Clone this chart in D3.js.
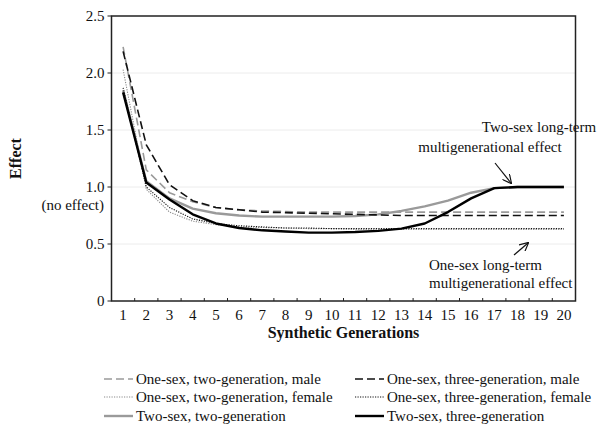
<!DOCTYPE html>
<html><head><meta charset="utf-8">
<script src="https://cdn.jsdelivr.net/npm/d3@7"></script>
</head><body style="margin:0"><svg id="c" width="606" height="433" style="display:block"></svg>
<script>
const generations = d3.range(1, 21);
const yTicks = [0, 0.5, 1.0, 1.5, 2.0, 2.5];
const oneSexTwoGenMale   = [2.23,1.15,0.95,0.87,0.82,0.80,0.79,0.785,0.78,0.78,0.78,0.78,0.78,0.78,0.78,0.78,0.78,0.78,0.78,0.78];
const oneSexThreeGenMale = [2.19,1.37,1.02,0.88,0.82,0.80,0.78,0.775,0.77,0.765,0.76,0.755,0.75,0.75,0.75,0.75,0.75,0.75,0.75,0.75];
const oneSexTwoGenFemale = [2.03,0.98,0.78,0.70,0.67,0.65,0.645,0.64,0.635,0.635,0.63,0.63,0.63,0.63,0.63,0.63,0.63,0.63,0.63,0.63];
const oneSexThreeGenFemale=[1.87,1.00,0.82,0.72,0.68,0.66,0.65,0.64,0.64,0.635,0.635,0.635,0.635,0.635,0.635,0.635,0.635,0.635,0.635,0.635];
const twoSexTwoGen       = [1.85,1.05,0.90,0.81,0.77,0.75,0.74,0.74,0.74,0.74,0.745,0.76,0.79,0.83,0.88,0.95,0.99,1.0,1.0,1.0];
const twoSexThreeGen     = [1.83,1.04,0.89,0.76,0.68,0.64,0.62,0.61,0.60,0.60,0.605,0.615,0.635,0.68,0.78,0.90,0.99,1.0,1.0,1.0];

const series = [
  {name:"One-sex, two-generation, male", v:oneSexTwoGenMale, color:"#9a9a9a", w:1.6, dash:"8,4"},
  {name:"One-sex, three-generation, male", v:oneSexThreeGenMale, color:"#111", w:1.6, dash:"8,4"},
  {name:"One-sex, two-generation, female", v:oneSexTwoGenFemale, color:"#8a8a8a", w:1.1, dash:"1.2,1.3"},
  {name:"One-sex, three-generation, female", v:oneSexThreeGenFemale, color:"#111", w:1.1, dash:"1.2,1.3"},
  {name:"Two-sex, two-generation", v:twoSexTwoGen, color:"#9a9a9a", w:2.4, dash:null},
  {name:"Two-sex, three-generation", v:twoSexThreeGen, color:"#000", w:2.4, dash:null}
];

const svg = d3.select("#c");
const L = 111.5, R = 575.5, T = 16, B = 301;
const x = d3.scaleBand().domain(generations).range([L, R]).padding(0);
const y = d3.scaleLinear().domain([0, 2.5]).range([B, T]);
const cx = g => x(g) + x.bandwidth() / 2;

function txt(sel) {
  return sel.attr("font-size", 15).attr("fill", "#111").style("font-family", '"Liberation Serif"');
}

// gridlines
svg.append("g").selectAll("line").data(yTicks.filter(d => d > 0 && d < 2.5)).join("line")
  .attr("x1", L).attr("x2", R).attr("y1", d => y(d)).attr("y2", d => y(d))
  .attr("stroke", "#ececec").attr("stroke-width", 1);

// lines
const line = d3.line().x((d, i) => cx(generations[i])).y(d => y(d));
const drawOrder = [4, 0, 2, 3, 1, 5];
drawOrder.forEach(i => {
  const s = series[i];
  svg.append("path").attr("d", line(s.v)).attr("fill", "none")
    .attr("stroke", s.color).attr("stroke-width", s.w)
    .attr("stroke-dasharray", s.dash).attr("stroke-linejoin", "round");
});

// frame
svg.append("rect").attr("x", L).attr("y", T).attr("width", R - L).attr("height", B - T)
  .attr("fill", "none").attr("stroke", "#222").attr("stroke-width", 1.5);

// y axis (ticks + labels)
const yTickG = svg.append("g").selectAll("g").data(yTicks).join("g")
  .attr("transform", d => `translate(${L},${y(d)})`);
yTickG.append("line").attr("x1", -4).attr("x2", 0).attr("stroke", "#222");
yTickG.append("text").attr("x", -7).attr("dy", "0.32em").attr("text-anchor", "end").call(txt)
  .text(d => d === 0 ? "0" : d.toFixed(1));
svg.append("text").attr("x", 104).attr("y", 210).attr("text-anchor", "end").call(txt).text("(no effect)");

// x axis labels + tick marks
svg.append("g").selectAll("text").data(generations).join("text")
  .attr("x", d => cx(d)).attr("y", B + 19).attr("text-anchor", "middle").call(txt).text(d => d);
svg.append("g").selectAll("line").data(generations.slice(1)).join("line")
  .attr("x1", d => x(d)).attr("x2", d => x(d)).attr("y1", B).attr("y2", B - 3)
  .attr("stroke", "#222").attr("stroke-width", 1);

// titles
svg.append("text").attr("x", (L + R) / 2).attr("y", 338).attr("text-anchor", "middle")
  .call(txt).attr("font-size", 16).attr("font-weight", "bold").text("Synthetic Generations");
svg.append("text").attr("transform", `translate(21,${(T + B) / 2}) rotate(-90)`).attr("text-anchor", "middle")
  .call(txt).attr("font-size", 16).attr("font-weight", "bold").text("Effect");

// annotations
svg.append("text").attr("x", 539).attr("y", 132).attr("text-anchor", "middle").call(txt).text("Two-sex long-term");
svg.append("text").attr("x", 490).attr("y", 152).attr("text-anchor", "middle").call(txt).text("multigenerational effect");
svg.append("text").attr("x", 429).attr("y", 270).call(txt).text("One-sex long-term");
svg.append("text").attr("x", 429).attr("y", 288).call(txt).text("multigenerational effect");

const defs = svg.append("defs");
defs.append("marker").attr("id", "ah").attr("viewBox", "0 0 10 10").attr("refX", 9).attr("refY", 5)
  .attr("markerWidth", 9).attr("markerHeight", 9).attr("orient", "auto").attr("markerUnits", "userSpaceOnUse")
  .append("path").attr("d", "M0,0 L10,5 L0,10").attr("fill", "none").attr("stroke", "#111").attr("stroke-width", 1.3);
svg.append("line").attr("x1", 495).attr("y1", 163).attr("x2", 511).attr("y2", 183)
  .attr("stroke", "#111").attr("stroke-width", 1.2).attr("marker-end", "url(#ah)");
svg.append("line").attr("x1", 514).attr("y1", 255).attr("x2", 528).attr("y2", 243)
  .attr("stroke", "#111").attr("stroke-width", 1.2).attr("marker-end", "url(#ah)");

// legend
const legX = [104, 355], legY = [379, 397, 416];
series.forEach((s, i) => {
  const col = i % 2, row = Math.floor(i / 2);
  const g = svg.append("g").attr("transform", `translate(${legX[col]},${legY[row]})`);
  g.append("line").attr("x1", 0).attr("x2", 29).attr("y1", 0).attr("y2", 0)
    .attr("stroke", s.color).attr("stroke-width", s.w).attr("stroke-dasharray", s.dash);
  g.append("text").attr("x", 32).attr("y", 5).call(txt).text(s.name);
});
</script></body></html>
